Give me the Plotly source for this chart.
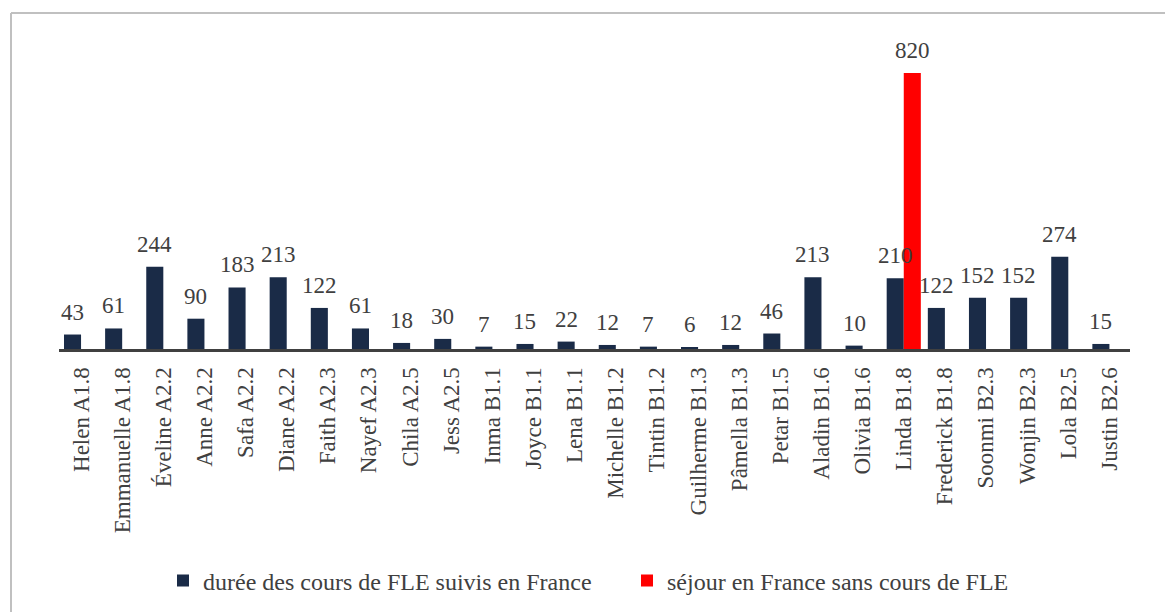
import plotly.graph_objects as go

categories = ["Helen A1.8", "Emmanuelle A1.8", "Éveline A2.2", "Anne A2.2", "Safa A2.2",
              "Diane A2.2", "Faith A2.3", "Nayef A2.3", "Chila A2.5", "Jess A2.5",
              "Inma B1.1", "Joyce B1.1", "Lena B1.1", "Michelle B1.2", "Tintin B1.2",
              "Guilherme B1.3", "Pâmella B1.3", "Petar B1.5", "Aladin B1.6", "Olivia B1.6",
              "Linda B1.8", "Frederick B1.8", "Soonmi B2.3", "Wonjin B2.3", "Lola B2.5",
              "Justin B2.6"]
fle_courses = [43, 61, 244, 90, 183, 213, 122, 61, 18, 30, 7, 15, 22, 12, 7, 6, 12, 46,
               213, 10, 210, 122, 152, 152, 274, 15]
stay_no_course = [None] * 20 + [820] + [None] * 5

series_names = ["durée des cours de FLE suivis en France", "séjour en France sans cours de FLE"]

FONT = "Liberation Serif, Times New Roman, serif"
GRAY = "#404040"
NAVY = "#1a2b47"
RED = "#ff0000"

L, R, B, T = 59, 1130, 349, 46
W, H = 1165, 612
pw, ph = R - L, B - T
BARGAP = 0.17
slot = pw / len(categories)
half_bar = (1 - BARGAP) * slot / 4

fig = go.Figure()
fig.add_trace(go.Bar(x=categories, y=fle_courses, name=series_names[0],
                     marker=dict(color=NAVY, line=dict(width=0))))
fig.add_trace(go.Bar(x=categories, y=stay_no_course, name=series_names[1],
                     marker=dict(color=RED, line=dict(width=0))))

annotations = []
for vals, shift in ((fle_courses, -half_bar), (stay_no_course, half_bar)):
    for c, v in zip(categories, vals):
        if v is None:
            continue
        annotations.append(dict(x=c, y=v, xref="x", yref="y", text=str(v),
                                showarrow=False, yanchor="bottom", xanchor="center",
                                xshift=shift, yshift=8,
                                font=dict(family=FONT, size=23, color=GRAY)))


def px_x(x):
    return (x - L) / pw


def px_y(y):
    return (B - y) / ph


fig.update_layout(
    width=W, height=H,
    margin=dict(l=L, r=W - R, t=T, b=H - B, autoexpand=False),
    paper_bgcolor="white", plot_bgcolor="white",
    barmode="group", bargap=BARGAP, bargroupgap=0,
    font=dict(family=FONT, color=GRAY, size=23),
    showlegend=True,
    legend=dict(orientation="h", x=px_x(163), xanchor="left",
                y=px_y(581), yanchor="middle",
                font=dict(family=FONT, size=24, color=GRAY),
                entrywidth=419, itemwidth=30, traceorder="normal",
                bgcolor="rgba(0,0,0,0)"),
    xaxis=dict(showline=True, linecolor=GRAY, linewidth=3, ticks="",
               tickangle=-90, tickfont=dict(family=FONT, size=23, color=GRAY),
               showgrid=False, zeroline=False, ticklabelstandoff=6),
    yaxis=dict(visible=False, range=[0, 900], showgrid=False, zeroline=False),
    annotations=annotations,
    shapes=[
        dict(type="line", xref="paper", yref="paper", x0=px_x(11), x1=px_x(1170),
             y0=px_y(13), y1=px_y(13), line=dict(color="#c0c0c0", width=2)),
        dict(type="line", xref="paper", yref="paper", x0=px_x(11), x1=px_x(11),
             y0=px_y(13), y1=px_y(620), line=dict(color="#c0c0c0", width=2)),
    ],
)

fig.write_html("out.html", config={"displayModeBar": False},
               post_script="document.body.style.margin='0';")
